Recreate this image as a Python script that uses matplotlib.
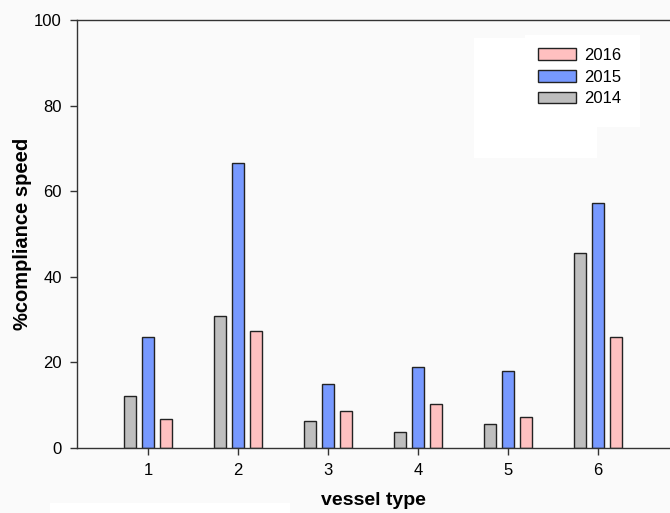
import matplotlib
matplotlib.use("Agg")
import matplotlib.pyplot as plt
import numpy as np
from matplotlib.patches import Rectangle

vessel_types = [1, 2, 3, 4, 5, 6]
y2014 = [12.2, 30.8, 6.3, 3.7, 5.6, 45.6]
y2015 = [26.0, 66.6, 15.0, 18.9, 18.0, 57.2]
y2016 = [6.7, 27.3, 8.6, 10.3, 7.2, 25.9]

plt.rcParams['font.family'] = ['Liberation Sans', 'DejaVu Sans']

fig = plt.figure(figsize=(6.70, 5.13), dpi=100)
fig.patch.set_facecolor('#fafafa')

# white scanning artifacts in the original
for (x0, y0, w, h) in [(474, 38, 123, 120), (525, 35, 115, 92), (50, 503, 240, 10)]:
    fig.patches.append(Rectangle((x0 / 670, 1 - (y0 + h) / 513), w / 670, h / 513,
                                 transform=fig.transFigure, facecolor='white',
                                 edgecolor='none', zorder=-5))

ax = fig.add_axes([77 / 670, 1 - 448 / 513, 1 - 77 / 670, (448 - 20) / 513])
ax.set_facecolor('none')
ax.set_zorder(2)

x = np.array(vessel_types)
w = 0.125
off = 0.2
edge = '#222222'
ax.bar(x - off, y2014, w, color='#bebebe', edgecolor=edge, linewidth=1.0, label='2014')
ax.bar(x, y2015, w, color='#7799ff', edgecolor=edge, linewidth=1.0, label='2015')
ax.bar(x + off, y2016, w, color='#ffc0c0', edgecolor=edge, linewidth=1.0, label='2016')

ax.set_xlim(0.21, 6.8)
ax.set_ylim(0, 100)
ax.set_xticks(vessel_types)
ax.set_yticks([0, 20, 40, 60, 80, 100])
ax.tick_params(labelsize=12, length=5, width=1, color='#333333', pad=6)
for s in ['left', 'top', 'bottom']:
    ax.spines[s].set_color('#333333')
    ax.spines[s].set_linewidth(1)
ax.spines['right'].set_visible(False)

ax.set_xlabel('vessel type', fontsize=14, fontweight='bold', labelpad=10)
ax.set_ylabel('%compliance speed', fontsize=14.5, fontweight='bold', labelpad=1.5)

h, l = ax.get_legend_handles_labels()
ax.legend(h[::-1], l[::-1], loc='upper left', bbox_to_anchor=(0.752, 0.97),
          frameon=False, fontsize=12, handlelength=2.3, handleheight=0.7,
          labelspacing=0.4, handletextpad=0.5)

plt.savefig('out.png', dpi=100, facecolor=fig.get_facecolor())
